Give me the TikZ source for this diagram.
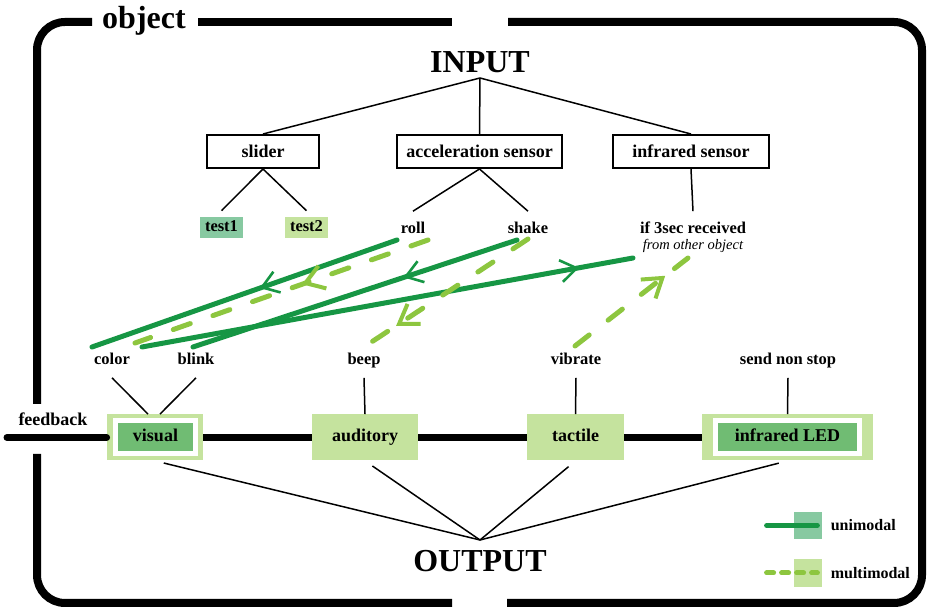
\documentclass[tikz,border=0pt]{standalone}
\usepackage{fontspec}
\setmainfont{Liberation Serif}
\usetikzlibrary{positioning,calc,arrows.meta,decorations.markings}

\definecolor{unigreen}{RGB}{22,150,68}
\definecolor{multigreen}{RGB}{141,198,63}
\definecolor{lightbox}{RGB}{197,227,158}
\definecolor{midbox}{RGB}{112,188,115}
\definecolor{unibox}{RGB}{135,201,161}

\tikzset{
  objframe/.style={line width=4pt, rounded corners=14pt},
  heading/.style={font=\bfseries\fontsize{16}{18}\selectfont},
  wire/.style={line width=0.75pt},
  sensor/.style={draw, line width=1pt, minimum height=16.5pt, inner sep=0pt,
    font=\bfseries\fontsize{9}{10}\selectfont},
  lbl/.style={font=\bfseries\fontsize{8.25}{10}\selectfont, text height=6pt,
    text depth=1.8pt, inner sep=2pt, outer sep=3pt},
  modebox/.style={fill=lightbox, minimum height=23pt, inner sep=0pt, text height=6.5pt,
    text depth=2pt, font=\bfseries\fontsize{9}{10}\selectfont},
  innerbox/.style={fill=midbox, draw=white, line width=2.5pt, minimum height=16.5pt,
    inner sep=0pt, text height=6.5pt, text depth=2pt, font=\bfseries\fontsize{9}{10}\selectfont},
  fbline/.style={line width=3.5pt, preaction={draw=black!55, line cap=round}},
  uni/.style={line width=2.5pt, color=unigreen, line cap=round},
  multi/.style={line width=2.5pt, color=multigreen, line cap=round, dash pattern=on 9pt off 12pt},
  uniarrow/.style={postaction={decorate, decoration={markings, mark=at position #1 with
    {\arrow{Straight Barb[length=8pt, width=11pt, line width=1.3pt]}}}}},
  multiarrow/.style={postaction={decorate, decoration={markings, mark=at position #1 with
    {\arrow{Straight Barb[length=9pt, width=12pt, line width=2pt]}}}}},
  legtxt/.style={font=\bfseries\fontsize{8}{10}\selectfont, inner sep=2pt}
}

\begin{document}
\begin{tikzpicture}[x=0.5pt, y=-0.5pt]
  \useasboundingbox (0,0) rectangle (927,608);

  % the object frame
  \draw[objframe] (92,22) -- (37,22) -- (37,404);
  \draw[objframe] (198,22) -- (452,22);
  \draw[objframe] (508,22) -- (922,22) -- (922,603) -- (507,603);
  \draw[objframe] (452,603) -- (37,603) -- (37,454);
  \node[heading, anchor=base] (object) at (144,29) {object};

  % input side
  \node[heading, anchor=south, inner sep=2.5pt] (input) at (480,78) {INPUT};
  \node[sensor, minimum width=56pt] (slider) at (263,151.5) {slider};
  \node[sensor, minimum width=82.5pt] (accel) at (479.5,151.5) {acceleration sensor};
  \node[sensor, minimum width=78pt] (irsensor) at (691,151.5) {infrared sensor};
  \foreach \s in {slider, accel, irsensor}
    \draw[wire] (input.south) -- (\s.north);

  \node[lbl, fill=unibox, inner sep=1.5pt, minimum width=21.5pt] (test1) at (221.5,227.5) {test1};
  \node[lbl, fill=lightbox, inner sep=1.5pt, minimum width=21.5pt] (test2) at (306.5,227.5) {test2};
  \node[lbl] (roll) at (413,229) {roll};
  \node[lbl] (shake) at (528,229) {shake};
  \node[lbl] (ifrec) at (693,229) {if 3sec received};
  \node[font=\itshape\fontsize{7.25}{8}\selectfont, inner sep=1pt, anchor=base] (fromobj) at (693,250) {from other object};
  \draw[wire] (slider.south) -- (test1.north);
  \draw[wire] (slider.south) -- (test2.north);
  \draw[wire] (accel.south) -- (roll.north);
  \draw[wire] (accel.south) -- (shake.north);
  \draw[wire] (irsensor.south) -- (ifrec.north);

  % output side
  \node[lbl] (color) at (112,360) {color};
  \node[lbl] (blink) at (196,360) {blink};
  \node[lbl] (beep) at (364,360) {beep};
  \node[lbl] (vibrate) at (576,360) {vibrate};
  \node[lbl] (sendir) at (788,360) {send non stop};

  \node[modebox, minimum width=48pt] (visual) at (155,437.5) {};
  \node[innerbox, minimum width=40pt] (visualtxt) at (155.5,437.5) {visual};
  \node[modebox, minimum width=53pt] (auditory) at (365,437.5) {auditory};
  \node[modebox, minimum width=48.5pt] (tactile) at (575.5,437.5) {tactile};
  \node[modebox, minimum width=85.5pt] (irled) at (787.5,437.5) {};
  \node[innerbox, minimum width=72pt] (irledtxt) at (787.5,437.5) {infrared LED};

  \draw[wire] (color.south) -- ([xshift=-3.5pt]visual.north);
  \draw[wire] (blink.south) -- ([xshift=2.5pt]visual.north);
  \draw[wire] (beep.south) -- (auditory.north);
  \draw[wire] (vibrate.south) -- (tactile.north);
  \draw[wire] (sendir.south) -- (irled.north);

  % feedback line
  \node[lbl, font=\bfseries\fontsize{9}{10}\selectfont] (feedback) at (53,421) {feedback};
  \coordinate (fbstart) at (7,437.5);
  \draw[line width=3.5pt, line cap=round] (fbstart) -- (visual.west);
  \draw[fbline] (visual.east) -- (auditory.west);
  \draw[fbline] (auditory.east) -- (tactile.west);
  \draw[fbline] (tactile.east) -- (irled.west);

  \node[heading, anchor=north, inner sep=5pt] (output) at (480,540) {OUTPUT};
  \foreach \b in {visual, auditory, tactile, irled}
    \draw[wire, shorten <=4.5pt] (\b.south) -- (output.north);

  % modal links
  \draw[uni, uniarrow=0.45] ($(roll)+(-16,11)$) -- ($(color)+(-20,-13)$);
  \draw[uni, uniarrow=0.35] ($(shake)+(-11,11)$) -- ($(blink)+(-3,-13)$);
  \draw[uni, uniarrow=0.89] ($(color)+(30,-13)$) -- ($(ifrec)+(-60,29)$);
  \draw[multi, multiarrow=0.43] ($(roll)+(15,11)$) -- ($(color)+(23,-17)$);
  \draw[multi, multiarrow=0.82] ($(shake)+(0,10)$) -- ($(beep)+(3,-15)$);
  \draw[multi, multiarrow=0.8] ($(vibrate)+(-1,-14)$) -- ($(ifrec)+(-5,29)$);

  % legend
  \node[fill=unibox, minimum width=14pt, minimum height=13.5pt, inner sep=0pt] (unisq) at (808,525.5) {};
  \node[fill=lightbox, minimum width=14pt, minimum height=14pt, inner sep=0pt] (multisq) at (808,573) {};
  \draw[uni] ([xshift=-13.5pt]unisq.west) -- ([xshift=-2.5pt]unisq.east);
  \draw[multi, dash pattern=on 3.5pt off 4pt] ([xshift=-13.5pt]multisq.west) -- ([xshift=-2.5pt]multisq.east);
  \node[legtxt, right=2pt of unisq] (unitxt) {unimodal};
  \node[legtxt, right=2pt of multisq] (multitxt) {multimodal};
\end{tikzpicture}
\end{document}
